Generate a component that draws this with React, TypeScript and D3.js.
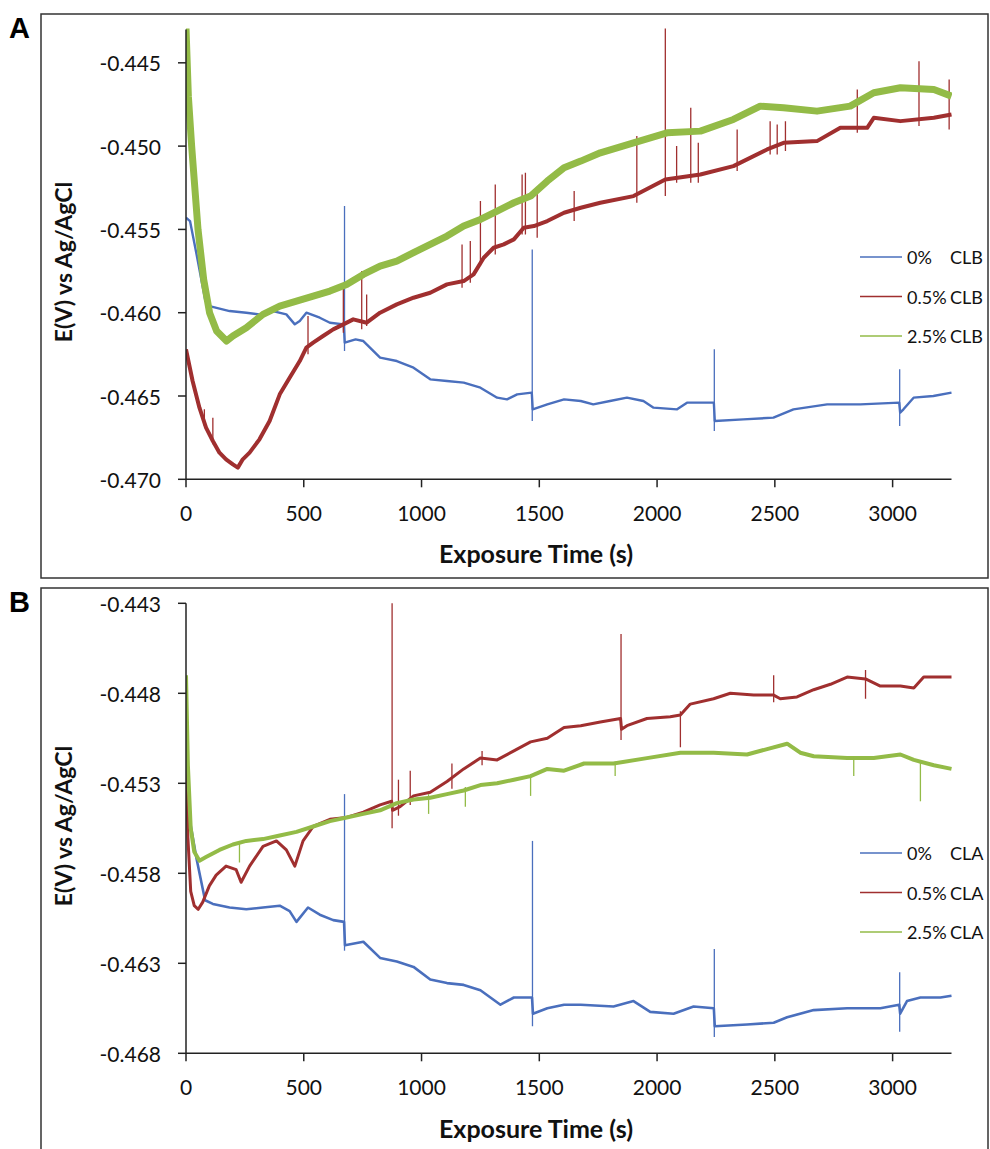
import React from "react";
import * as d3 from "d3";

// time (s), potential (V vs Ag/AgCl)
const xTicks = [0, 500, 1000, 1500, 2000, 2500, 3000];
const yTicksA = [-0.47, -0.465, -0.46, -0.455, -0.45, -0.445];
const yTicksB = [-0.468, -0.463, -0.458, -0.453, -0.448, -0.443];

const blueA: [number, number][] = [
  [0, -0.4543], [17, -0.4545], [45, -0.4565], [81, -0.4592], [100, -0.4596], [185, -0.4599], [256, -0.46],
  [312, -0.4601], [369, -0.4599], [426, -0.4601], [462, -0.4607], [483, -0.4605], [511, -0.46], [568, -0.4603],
  [611, -0.4606], [670, -0.4607], [674, -0.4618], [720, -0.4616], [753, -0.4617], [824, -0.4627], [895, -0.4629],
  [966, -0.4633], [1037, -0.464], [1108, -0.4641], [1179, -0.4642], [1250, -0.4645], [1321, -0.4651], [1363, -0.4652],
  [1406, -0.4649], [1468, -0.4648], [1472, -0.4658], [1534, -0.4655], [1605, -0.4652], [1676, -0.4653], [1729, -0.4655],
  [1800, -0.4653], [1872, -0.4651], [1942, -0.4653], [1985, -0.4657], [2085, -0.4658], [2127, -0.4654], [2241, -0.4654],
  [2245, -0.4665], [2366, -0.4664], [2494, -0.4663], [2579, -0.4658], [2722, -0.4655], [2863, -0.4655], [3028, -0.4654],
  [3032, -0.466], [3046, -0.4658], [3089, -0.4651], [3173, -0.465], [3250, -0.4648],
];
const redA: [number, number][] = [
  [0, -0.4622], [28, -0.4641], [57, -0.4657], [85, -0.4669], [114, -0.4677], [142, -0.4684], [170, -0.4688],
  [199, -0.4691], [220, -0.4693], [241, -0.4688], [270, -0.4684], [312, -0.4676], [355, -0.4665], [398, -0.4649],
  [440, -0.4639], [483, -0.4629], [511, -0.4621], [540, -0.4618], [582, -0.4614], [625, -0.461], [668, -0.4607],
  [710, -0.4604], [767, -0.4606], [824, -0.46], [895, -0.4595], [966, -0.4591], [1037, -0.4588], [1108, -0.4583],
  [1179, -0.4581], [1221, -0.4577], [1264, -0.4567], [1306, -0.4561], [1349, -0.4559], [1392, -0.4556], [1434, -0.4549],
  [1477, -0.4548], [1534, -0.4545], [1605, -0.454], [1676, -0.4537], [1759, -0.4534], [1900, -0.453], [2035, -0.452],
  [2184, -0.4517], [2324, -0.4512], [2467, -0.4502], [2537, -0.4498], [2679, -0.4497], [2778, -0.4489], [2892, -0.4489],
  [2920, -0.4483], [3033, -0.4485], [3175, -0.4483], [3250, -0.4481],
];
const greenA: [number, number][] = [
  [0, -0.4429], [10, -0.447], [24, -0.45], [51, -0.455], [75, -0.458], [100, -0.46], [130, -0.4611], [172, -0.4617],
  [199, -0.4614], [256, -0.4609], [327, -0.4601], [398, -0.4596], [469, -0.4593], [540, -0.459], [611, -0.4587],
  [682, -0.4583], [753, -0.4577], [824, -0.4572], [895, -0.4569], [966, -0.4564], [1037, -0.4559], [1108, -0.4554],
  [1179, -0.4548], [1250, -0.4544], [1321, -0.4539], [1392, -0.4534], [1463, -0.453], [1534, -0.4521], [1605, -0.4513],
  [1676, -0.4509], [1759, -0.4504], [1900, -0.4498], [2042, -0.4492], [2184, -0.4491], [2324, -0.4484], [2438, -0.4476],
  [2537, -0.4477], [2679, -0.4479], [2820, -0.4476], [2920, -0.4468], [3033, -0.4465], [3175, -0.4466], [3250, -0.447],
];
// spikes: time, top, bottom
const blueSpikesA: [number, number, number][] = [
  [673, -0.4536, -0.4623], [1470, -0.4562, -0.4665], [2243, -0.4622, -0.4671], [3030, -0.4634, -0.4668],
];
const redSpikesA: [number, number, number][] = [
  [78, -0.4658, -0.4668], [114, -0.4663, -0.4679], [518, -0.4602, -0.4625], [668, -0.4585, -0.4612],
  [746, -0.4575, -0.461], [767, -0.4589, -0.4608], [1172, -0.4559, -0.4585], [1207, -0.4557, -0.4582],
  [1250, -0.4533, -0.4572], [1313, -0.4523, -0.4565], [1427, -0.4517, -0.4553], [1441, -0.4516, -0.4553],
  [1491, -0.4525, -0.4555], [1648, -0.4527, -0.4545], [1914, -0.4494, -0.4534], [2035, -0.4429, -0.453],
  [2083, -0.45, -0.4522], [2143, -0.4477, -0.4522], [2175, -0.4498, -0.4522], [2340, -0.449, -0.4515],
  [2480, -0.4485, -0.4505], [2510, -0.4487, -0.4505], [2545, -0.4485, -0.4503], [2850, -0.4466, -0.4492],
  [3112, -0.4449, -0.4488], [3240, -0.446, -0.449],
];

const blueB: [number, number][] = [
  [0, -0.4543], [10, -0.4546], [45, -0.4572], [81, -0.4595], [114, -0.4597], [185, -0.4599], [256, -0.46],
  [327, -0.4599], [398, -0.4598], [440, -0.4601], [469, -0.4607], [518, -0.4599], [568, -0.4603], [625, -0.4606],
  [671, -0.4607], [675, -0.462], [753, -0.4618], [824, -0.4627], [895, -0.4629], [966, -0.4632], [1037, -0.4639],
  [1108, -0.4641], [1179, -0.4642], [1250, -0.4645], [1335, -0.4653], [1392, -0.4649], [1469, -0.4649], [1473, -0.4658],
  [1534, -0.4655], [1605, -0.4653], [1676, -0.4653], [1815, -0.4654], [1900, -0.4651], [1971, -0.4657], [2070, -0.4658],
  [2155, -0.4654], [2241, -0.4655], [2245, -0.4665], [2382, -0.4664], [2495, -0.4663], [2552, -0.466], [2665, -0.4656],
  [2807, -0.4655], [2948, -0.4655], [3028, -0.4653], [3032, -0.4658], [3061, -0.4651], [3118, -0.4649], [3203, -0.4649],
  [3250, -0.4648],
];
const redB: [number, number][] = [
  [0, -0.451], [8, -0.456], [20, -0.459], [35, -0.4598], [52, -0.46], [71, -0.4596], [99, -0.4587], [128, -0.4581],
  [170, -0.4576], [213, -0.4578], [234, -0.4585], [270, -0.4576], [327, -0.4565], [384, -0.4562], [426, -0.4567],
  [462, -0.4576], [497, -0.4562], [540, -0.4554], [611, -0.455], [682, -0.4549], [753, -0.4546], [824, -0.4542],
  [873, -0.454], [877, -0.4545], [909, -0.4543], [966, -0.4537], [1037, -0.4535], [1108, -0.4529], [1179, -0.4522],
  [1250, -0.4516], [1321, -0.4517], [1392, -0.4512], [1463, -0.4507], [1534, -0.4505], [1605, -0.4499], [1676, -0.4498],
  [1759, -0.4496], [1845, -0.4494], [1849, -0.45], [1872, -0.4498], [1957, -0.4494], [2056, -0.4493], [2099, -0.4492],
  [2141, -0.4486], [2240, -0.4483], [2311, -0.448], [2410, -0.4481], [2495, -0.4481], [2523, -0.4483], [2594, -0.4482],
  [2665, -0.4478], [2736, -0.4475], [2807, -0.4471], [2885, -0.4472], [2948, -0.4476], [3033, -0.4476], [3090, -0.4477],
  [3132, -0.4471], [3203, -0.4471], [3250, -0.4471],
];
const greenB: [number, number][] = [
  [0, -0.447], [8, -0.452], [20, -0.4555], [35, -0.4568], [57, -0.4573], [85, -0.4571], [142, -0.4567], [199, -0.4564],
  [256, -0.4562], [327, -0.4561], [398, -0.4559], [469, -0.4557], [540, -0.4554], [611, -0.4551], [682, -0.4549],
  [753, -0.4547], [824, -0.4545], [895, -0.4541], [966, -0.4539], [1037, -0.4538], [1108, -0.4536], [1179, -0.4534],
  [1250, -0.4531], [1321, -0.453], [1392, -0.4528], [1463, -0.4526], [1534, -0.4522], [1605, -0.4523], [1690, -0.4519],
  [1815, -0.4519], [1957, -0.4516], [2099, -0.4513], [2240, -0.4513], [2382, -0.4514], [2467, -0.4511], [2552, -0.4508],
  [2608, -0.4513], [2665, -0.4515], [2807, -0.4516], [2920, -0.4516], [3033, -0.4514], [3090, -0.4517], [3175, -0.452],
  [3250, -0.4522],
];
const blueSpikesB: [number, number, number][] = [
  [673, -0.4536, -0.4623], [1471, -0.4562, -0.4665], [2243, -0.4622, -0.4671], [3030, -0.4635, -0.4668],
];
const redSpikesB: [number, number, number][] = [
  [875, -0.443, -0.4555], [902, -0.4528, -0.4548], [952, -0.4523, -0.4542], [1129, -0.4519, -0.4533],
  [1257, -0.4512, -0.452], [1847, -0.4447, -0.4506], [2099, -0.449, -0.451], [2495, -0.447, -0.4485],
  [2885, -0.4467, -0.4483],
];
const greenSpikesB: [number, number, number][] = [
  [227, -0.4563, -0.4574], [1030, -0.4536, -0.4547], [1186, -0.4532, -0.4543], [1463, -0.4525, -0.4537],
  [1822, -0.4518, -0.4526], [2835, -0.4515, -0.4526], [3118, -0.4518, -0.454],
];

const legendA = [["0%", "CLB"], ["0.5%", "CLB"], ["2.5%", "CLB"]];
const legendB = [["0%", "CLA"], ["0.5%", "CLA"], ["2.5%", "CLA"]];

const BLUE = "#4a6fbd";
const RED = "#a02f2f";
const GREEN = "#93bb47";
const FONT = "Lato, 'Open Sans', sans-serif";

type Series = { data: [number, number][]; spikes: [number, number, number][]; color: string; width: number };

function Panel(props: {
  id: string; letter: string; boxTop: number; boxH: number; y0: number; y1: number;
  domain: [number, number]; yTicks: number[]; series: Series[]; legend: string[][]; legendY: number;
  tickLabelY: number; titleY: number; yTitleY: number;
}) {
  const x = d3.scaleLinear().domain([0, 3250]).range([186, 951.5]);
  const y = d3.scaleLinear().domain(props.domain).range([props.y0, props.y1]);
  const line = d3.line<[number, number]>().x(d => x(d[0])).y(d => y(d[1]));
  const colors = [BLUE, RED, GREEN];
  return (
    <g>
      <rect x={41} y={props.boxTop} width={947} height={props.boxH} fill="none" stroke="#333" strokeWidth={1.5} />
      <text x={9} y={props.boxTop + 24} fontFamily="'Liberation Sans', Arial, sans-serif" fontWeight="bold" fontSize={29}>{props.letter}</text>
      <clipPath id={props.id}>
        <rect x={186} y={props.y1 - 1} width={766} height={props.y0 - props.y1 + 2} />
      </clipPath>
      <g clipPath={`url(#${props.id})`}>
        {props.series.map((s, i) => (
          <g key={i}>
            <path d={line(s.data) ?? ""} fill="none" stroke={s.color} strokeWidth={s.width} strokeLinejoin="round" />
            {s.spikes.map((p, j) => (
              <line key={j} x1={x(p[0])} x2={x(p[0])} y1={y(p[1])} y2={y(p[2])} stroke={s.color} strokeWidth={1.3} />
            ))}
          </g>
        ))}
      </g>
      {/* axes */}
      <line x1={186} x2={186} y1={props.y1} y2={props.y0} stroke="#222" strokeWidth={1.5} />
      <line x1={186} x2={951.5} y1={props.y0} y2={props.y0} stroke="#222" strokeWidth={1.5} />
      {props.yTicks.map(t => (
        <g key={t}>
          <line x1={178} x2={186} y1={y(t)} y2={y(t)} stroke="#222" strokeWidth={1.5} />
          <text x={161} y={y(t)} textAnchor="end" dominantBaseline="central" fontFamily={FONT} fontSize={21} fill="#111">{t.toFixed(3)}</text>
        </g>
      ))}
      {xTicks.map(t => (
        <g key={t}>
          <line x1={x(t)} x2={x(t)} y1={props.y0} y2={props.y0 + 8} stroke="#222" strokeWidth={1.5} />
          <text x={x(t)} y={props.tickLabelY} textAnchor="middle" dominantBaseline="central" fontFamily={FONT} fontSize={21} fill="#111">{t}</text>
        </g>
      ))}
      <text x={536} y={props.titleY} textAnchor="middle" dominantBaseline="central" fontFamily={FONT} fontWeight="bold" fontSize={25} fill="#111">Exposure Time (s)</text>
      <text transform={`translate(63,${props.yTitleY}) rotate(-90)`} textAnchor="middle" dominantBaseline="central" fontFamily={FONT} fontWeight="bold" fontSize={23} fill="#111">E(V) vs Ag/AgCl</text>
      {props.legend.map((l, i) => (
        <g key={i} transform={`translate(0,${props.legendY + i * 39.5})`}>
          <line x1={860} x2={902} y1={0} y2={0} stroke={colors[i]} strokeWidth={1.6} />
          <text x={907} y={0} dominantBaseline="central" fontFamily={FONT} fontSize={18} fill="#111">{l[0]}</text>
          <text x={950} y={0} dominantBaseline="central" fontFamily={FONT} fontSize={18} fill="#111">{l[1]}</text>
        </g>
      ))}
    </g>
  );
}

export default function App() {
  return (
    <svg width={990} height={1149} style={{ position: "absolute", left: 0, top: 0, background: "#fff" }}>
      <rect width={990} height={1149} fill="#fff" />
      <Panel id="clipA" letter="A" boxTop={14} boxH={564} y0={479.3} y1={29.5} domain={[-0.47, -0.443]}
        yTicks={yTicksA} legend={legendA} legendY={257} tickLabelY={512} titleY={553} yTitleY={262}
        series={[
          { data: blueA, spikes: blueSpikesA, color: BLUE, width: 2.4 },
          { data: redA, spikes: redSpikesA, color: RED, width: 4 },
          { data: greenA, spikes: [], color: GREEN, width: 7 },
        ]} />
      <Panel id="clipB" letter="B" boxTop={588} boxH={600} y0={1053.3} y1={603.3} domain={[-0.468, -0.443]}
        yTicks={yTicksB} legend={legendB} legendY={853} tickLabelY={1086} titleY={1128} yTitleY={826}
        series={[
          { data: blueB, spikes: blueSpikesB, color: BLUE, width: 2.6 },
          { data: redB, spikes: redSpikesB, color: RED, width: 3 },
          { data: greenB, spikes: greenSpikesB, color: GREEN, width: 4 },
        ]} />
    </svg>
  );
}
